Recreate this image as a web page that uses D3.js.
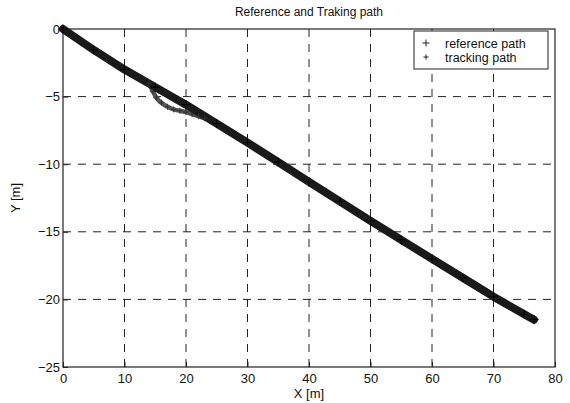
<!DOCTYPE html>
<html>
<head>
<meta charset="utf-8">
<script src="https://cdn.jsdelivr.net/npm/d3@7"></script>
<style>
body { margin: 0; background: #fff; }
text { font-family: "Liberation Sans", Arial, sans-serif; fill: #111; }
</style>
</head>
<body>
<script>
// reference path
var refX = [0, 5, 10, 15, 20, 25, 30, 35, 40, 45, 50, 55, 60, 65, 70, 75, 76.6];
var refY = [0, -1.55, -3.0, -4.3, -5.6, -7.0, -8.4, -9.85, -11.3, -12.75, -14.2, -15.6, -17.0, -18.4, -19.8, -21.1, -21.5];
// tracking path, with the detour near x = 14..23
var trkX = [0, 5, 10, 14, 14.6, 15.2, 16, 17, 18, 19, 20, 21, 22, 23, 25, 30, 40, 50, 60, 70, 76.6];
var trkY = [0, -1.55, -3.0, -4.05, -4.6, -5.1, -5.45, -5.75, -5.95, -6.05, -6.15, -6.3, -6.45, -6.6, -7.0, -8.4, -11.3, -14.2, -17.0, -19.8, -21.5];

var xTicks = [0, 10, 20, 30, 40, 50, 60, 70, 80];
var yTicks = [0, -5, -10, -15, -20, -25];
var legendLabels = ["reference path", "tracking path"];

var W = 570, H = 403;
var margin = {top: 29, right: 15, bottom: 36, left: 63};
var width = W - margin.left - margin.right;
var height = H - margin.top - margin.bottom;

var svg = d3.select("body").append("svg")
	.attr("width", W)
	.attr("height", H);

var g = svg.append("g")
	.attr("transform", "translate(" + margin.left + "," + margin.top + ")");

var x = d3.scaleLinear().domain([0, 80]).range([0, width]);
var y = d3.scaleLinear().domain([-25, 0]).range([height, 0]);

// grid
g.selectAll(".gx").data(xTicks.slice(1, -1)).enter().append("line")
	.attr("x1", d => x(d)).attr("x2", d => x(d))
	.attr("y1", 0).attr("y2", height)
	.attr("stroke", "#222").attr("stroke-width", 1).attr("stroke-dasharray", "8,7");
g.selectAll(".gy").data(yTicks.slice(1, -1)).enter().append("line")
	.attr("y1", d => y(d)).attr("y2", d => y(d))
	.attr("x1", 0).attr("x2", width)
	.attr("stroke", "#222").attr("stroke-width", 1).attr("stroke-dasharray", "8,7");

// axes
var xAxis = d3.axisBottom(x).tickValues(xTicks).tickSize(-5).tickPadding(4);
var yAxis = d3.axisLeft(y).tickValues(yTicks).tickSize(-5).tickPadding(3);

g.append("g").attr("transform", "translate(0," + height + ")").call(xAxis)
	.call(a => a.select(".domain").remove())
	.selectAll("text").attr("font-size", "13px").attr("dy", "0.9em");
g.append("g").call(yAxis)
	.call(a => a.select(".domain").remove())
	.selectAll("text").attr("font-size", "13px");
g.selectAll(".tick line").attr("stroke", "#222");
g.selectAll(".tick text").style("fill", "#111");

g.append("rect")
	.attr("width", width).attr("height", height)
	.attr("fill", "none").attr("stroke", "#222").attr("stroke-width", 1.2);

var line = d3.line().x(d => x(d[0])).y(d => y(d[1]));
var refPts = refX.map((v, i) => [v, refY[i]]);
var trkPts = trkX.map((v, i) => [v, trkY[i]]);

// tracking path band (lighter, under)
g.append("path").datum(trkPts)
	.attr("d", d3.line().x(d => x(d[0])).y(d => y(d[1])).curve(d3.curveMonotoneX))
	.attr("fill", "none")
	.attr("stroke", "#555").attr("stroke-width", 4.5)
	.attr("stroke-linejoin", "round").attr("stroke-linecap", "round");

// reference path band
g.append("path").datum(refPts)
	.attr("d", line).attr("fill", "none")
	.attr("stroke", "#1a1a1a").attr("stroke-width", 8)
	.attr("stroke-linejoin", "round").attr("stroke-linecap", "round");

function plus(sel, s) {
	sel.append("path").attr("d", "M" + (-s) + ",0H" + s + "M0," + (-s) + "V" + s);
}

g.selectAll(".trk").data(trkPts).enter().append("g")
	.attr("transform", d => "translate(" + x(d[0]) + "," + y(d[1]) + ")")
	.call(plus, 3)
	.selectAll("path").attr("stroke", "#333").attr("stroke-width", 1);

g.selectAll(".ref").data(refPts).enter().append("g")
	.attr("transform", d => "translate(" + x(d[0]) + "," + y(d[1]) + ")")
	.call(plus, 4.5)
	.selectAll("path").attr("stroke", "#000").attr("stroke-width", 1);

// legend
var lg = svg.append("g").attr("transform", "translate(414,31)");
lg.append("rect").attr("width", 134).attr("height", 38)
	.attr("fill", "#fff").attr("stroke", "#222").attr("stroke-width", 1);
legendLabels.forEach((lab, i) => {
	var row = lg.append("g").attr("transform", "translate(0," + (12 + i * 14) + ")");
	row.append("g").attr("transform", "translate(12,0)")
		.call(plus, i === 0 ? 3.5 : 2.5)
		.selectAll("path").attr("stroke", "#222").attr("stroke-width", 1);
	row.append("text").attr("x", 31).attr("y", 4.5)
		.attr("font-size", "12.5px").text(lab);
});

// titles
svg.append("text")
	.attr("x", margin.left + width / 2).attr("y", 16)
	.attr("text-anchor", "middle").attr("font-size", "12px")
	.text("Reference and Traking path");
svg.append("text")
	.attr("x", margin.left + width / 2).attr("y", 398)
	.attr("text-anchor", "middle").attr("font-size", "13px")
	.text("X [m]");
svg.append("text")
	.attr("transform", "translate(20," + (margin.top + height / 2) + ") rotate(-90)")
	.attr("text-anchor", "middle").attr("font-size", "13px")
	.text("Y [m]");
</script>
</body>
</html>
